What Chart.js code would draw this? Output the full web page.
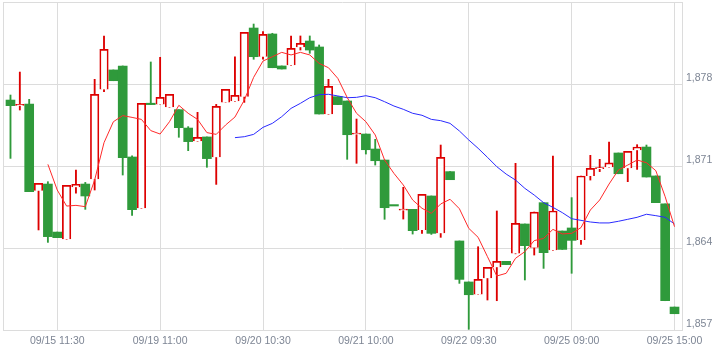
<!DOCTYPE html>
<html>
<head>
<meta charset="utf-8">
<script src="https://cdn.jsdelivr.net/npm/chart.js@4.4.1/dist/chart.umd.min.js"></script>
<style>
html, body { margin: 0; padding: 0; background: #fff; }
</style>
</head>
<body>
<canvas id="chart" width="723" height="353"></canvas>
<script>
// 30 min candles
var opens = [1876.63, 1876.20, 1876.29, 1868.89, 1869.46, 1865.36, 1864.74, 1869.18, 1869.46, 1869.86,
  1877.54, 1879.20, 1879.54, 1871.77, 1867.39, 1876.35, 1876.26, 1876.01, 1875.81, 1874.24,
  1873.11, 1873.48, 1871.74, 1876.43, 1876.52, 1876.92, 1882.78, 1880.33, 1882.27, 1879.54,
  1879.59, 1881.13, 1881.67, 1881.16, 1875.41, 1876.92, 1876.55, 1873.75, 1873.73, 1872.45,
  1871.51, 1867.65, 1867.26, 1867.30, 1865.54, 1868.44, 1865.25, 1870.52, 1864.60, 1861.10,
  1860.04, 1861.41, 1862.35, 1862.86, 1863.54, 1866.05, 1864.06, 1867.87, 1863.80, 1865.45,
  1865.71, 1864.68, 1870.15, 1870.80, 1870.89, 1872.11, 1870.80, 1872.34, 1872.62, 1870.15,
  1867.76, 1858.96];
var highs = [1877.06, 1879.02, 1876.69, 1869.52, 1869.66, 1865.36, 1869.35, 1870.66, 1869.60, 1878.40,
  1882.10, 1879.20, 1879.54, 1871.86, 1876.35, 1879.88, 1880.28, 1877.12, 1875.81, 1874.36,
  1875.58, 1873.48, 1876.26, 1877.54, 1880.33, 1882.41, 1883.12, 1882.47, 1882.33, 1879.54,
  1882.10, 1882.10, 1882.10, 1881.33, 1878.40, 1876.92, 1876.55, 1875.01, 1873.73, 1873.28,
  1871.51, 1867.65, 1869.18, 1867.30, 1868.58, 1868.44, 1872.79, 1870.52, 1864.60, 1861.10,
  1864.11, 1862.35, 1867.16, 1862.86, 1871.23, 1866.05, 1867.07, 1867.87, 1871.85, 1865.45,
  1868.30, 1870.15, 1871.91, 1871.57, 1873.05, 1872.11, 1872.25, 1872.82, 1872.79, 1870.15,
  1867.76, 1858.96];
var lows = [1871.65, 1875.78, 1868.81, 1865.54, 1864.48, 1864.88, 1864.74, 1868.67, 1867.30, 1868.95,
  1877.35, 1878.28, 1870.23, 1866.79, 1867.39, 1876.25, 1876.26, 1876.01, 1873.45, 1872.31,
  1873.11, 1870.89, 1869.43, 1876.43, 1876.52, 1876.43, 1880.11, 1880.13, 1879.39, 1879.28,
  1879.59, 1880.90, 1880.62, 1875.44, 1875.41, 1876.24, 1871.57, 1871.23, 1872.02, 1871.08,
  1866.45, 1867.64, 1866.47, 1865.19, 1865.25, 1865.16, 1864.91, 1869.83, 1860.98, 1857.06,
  1860.04, 1859.56, 1859.50, 1862.58, 1863.50, 1861.27, 1863.40, 1862.26, 1863.80, 1863.88,
  1861.84, 1864.31, 1869.80, 1870.52, 1870.89, 1870.34, 1869.66, 1870.71, 1870.06, 1867.87,
  1859.50, 1858.39];
var closes = [1876.15, 1876.21, 1868.81, 1869.52, 1864.97, 1864.88, 1869.35, 1869.43, 1868.44, 1877.12,
  1880.96, 1878.28, 1871.71, 1867.27, 1876.35, 1876.25, 1876.86, 1877.12, 1874.27, 1873.08,
  1873.45, 1871.63, 1876.09, 1877.54, 1877.03, 1882.41, 1880.33, 1882.24, 1879.39, 1879.28,
  1881.04, 1881.47, 1880.90, 1875.44, 1877.80, 1876.24, 1873.67, 1873.76, 1872.39, 1871.45,
  1867.44, 1867.64, 1867.27, 1865.48, 1868.58, 1865.25, 1871.74, 1869.83, 1861.32, 1860.01,
  1861.32, 1862.35, 1862.86, 1862.58, 1866.10, 1864.20, 1867.07, 1863.60, 1867.16, 1863.88,
  1864.65, 1870.15, 1870.80, 1870.81, 1871.26, 1870.34, 1872.25, 1872.62, 1870.06, 1867.87,
  1859.50, 1858.39];

// moving averages as drawn (red short, blue long)
var maShort = [null, null, null, null, 1871.14, 1868.95, 1867.58, 1867.64, 1867.53, 1869.80,
  1872.99, 1874.78, 1875.30, 1875.15, 1874.98, 1874.02, 1873.73, 1874.78, 1876.18, 1875.50,
  1874.98, 1873.85, 1873.70, 1874.50, 1875.18, 1876.63, 1878.57, 1879.96, 1880.33, 1880.70,
  1880.48, 1880.70, 1880.48, 1879.76, 1879.39, 1878.48, 1876.85, 1875.50, 1874.78, 1873.65,
  1871.51, 1870.37, 1869.38, 1868.10, 1867.39, 1866.96, 1867.76, 1868.16, 1867.35, 1865.68,
  1864.91, 1863.26, 1861.61, 1861.84, 1863.12, 1863.69, 1864.63, 1864.82, 1865.59, 1865.20,
  1865.25, 1865.74, 1867.24, 1868.10, 1869.46, 1870.66, 1871.08, 1871.51, 1871.28, 1870.60,
  1868.38, 1865.82];
var maLong = [null, null, null, null, null, null, null, null, null, null,
  null, null, null, null, null, null, null, null, null, null,
  null, null, null, null, 1873.42, 1873.50, 1873.70, 1874.30, 1874.64, 1875.21,
  1875.92, 1876.35, 1876.83, 1877.09, 1877.12, 1876.98, 1876.83, 1876.86, 1877.00, 1876.83,
  1876.49, 1876.12, 1875.84, 1875.50, 1875.33, 1874.98, 1874.87, 1874.64, 1873.99, 1873.22,
  1872.51, 1871.74, 1870.94, 1870.31, 1869.80, 1869.09, 1868.52, 1867.87, 1867.47, 1867.02,
  1866.50, 1866.36, 1866.22, 1866.14, 1866.14, 1866.28, 1866.45, 1866.62, 1866.88, 1866.76,
  1866.62, 1866.05];

var tickIdx = [5, 16, 27, 38, 49, 60, 71];
var tickLabels = ['09/15 11:30', '09/19 11:00', '09/20 10:30', '09/21 10:00', '09/22 09:30', '09/25 09:00', '09/25 15:00'];

var RED = '#dd0000';
var GREEN = '#2f9a3b';
var GRID = '#dcdcdc';

var wicks = [], wickColors = [], upBodies = [], downBodies = [];
for (var i = 0; i < opens.length; i++) {
  var o = opens[i], c = closes[i];
  var up = c > o;
  var lo = Math.min(o, c), hi = Math.max(o, c);
  if (hi - lo < 0.12) { var m = (hi + lo) / 2; lo = m - 0.06; hi = m + 0.06; }
  wicks.push({ x: i, y: [lows[i], highs[i]] });
  wickColors.push(up ? RED : GREEN);
  if (up) upBodies.push({ x: i, y: [lo, hi] });
  else downBodies.push({ x: i, y: [lo, hi] });
}

function toPoints(arr) {
  var pts = [];
  arr.forEach(function (v, i) { if (v !== null) pts.push({ x: i, y: v }); });
  return pts;
}

var font = { family: 'Liberation Sans, Arial, sans-serif', size: 10.5 };

new Chart(document.getElementById('chart'), {
  type: 'bar',
  data: {
    datasets: [
      { type: 'line', data: toPoints(maShort), borderColor: '#ff2a2a', borderWidth: 1, pointRadius: 0, tension: 0, order: 0 },
      { type: 'line', data: toPoints(maLong), borderColor: '#2a2aff', borderWidth: 1, pointRadius: 0, tension: 0, order: 0 },
      { data: upBodies, backgroundColor: '#ffffff', borderColor: RED, borderWidth: 1.7, barThickness: 8.5, grouped: false, order: 1 },
      { data: downBodies, backgroundColor: GREEN, borderColor: GREEN, borderWidth: 0, barThickness: 9, grouped: false, order: 1 },
      { data: wicks, backgroundColor: wickColors, borderWidth: 0, barThickness: 1.2, grouped: false, order: 2 }
    ]
  },
  options: {
    responsive: false,
    animation: false,
    devicePixelRatio: 1,
    layout: { padding: { left: 3, top: 2, right: 0, bottom: 0 } },
    plugins: { legend: { display: false }, tooltip: { enabled: false } },
    scales: {
      x: {
        type: 'linear',
        offset: false,
        min: -0.8,
        max: 71.8,
        grid: { color: GRID, drawTicks: false, offset: false },
        border: { color: GRID },
        ticks: {
          font: font, color: '#7d8594', padding: 5, maxRotation: 0, autoSkip: false,
          callback: function (v) {
            var k = tickIdx.indexOf(v);
            return k >= 0 ? tickLabels[k] : '';
          }
        },
        afterBuildTicks: function (scale) {
          scale.ticks = [-0.8].concat(tickIdx).map(function (v) { return { value: v }; });
        },
        afterFit: function (scale) {
          scale.height = 23;
          scale.paddingLeft = 0; scale.paddingRight = 0;
        }
      },
      y: {
        position: 'right',
        min: 1857,
        max: 1885,
        grid: { color: GRID, drawTicks: false },
        border: { color: GRID },
        ticks: {
          stepSize: 7, font: font, color: '#7d8594', padding: 4, labelOffset: -6,
          callback: function (v) { return v === 1885 ? '' : v.toLocaleString('en-US'); }
        },
        afterFit: function (scale) {
          scale.width = 41;
          scale.paddingTop = 0; scale.paddingBottom = 0;
        }
      }
    }
  }
});
</script>
</body>
</html>
